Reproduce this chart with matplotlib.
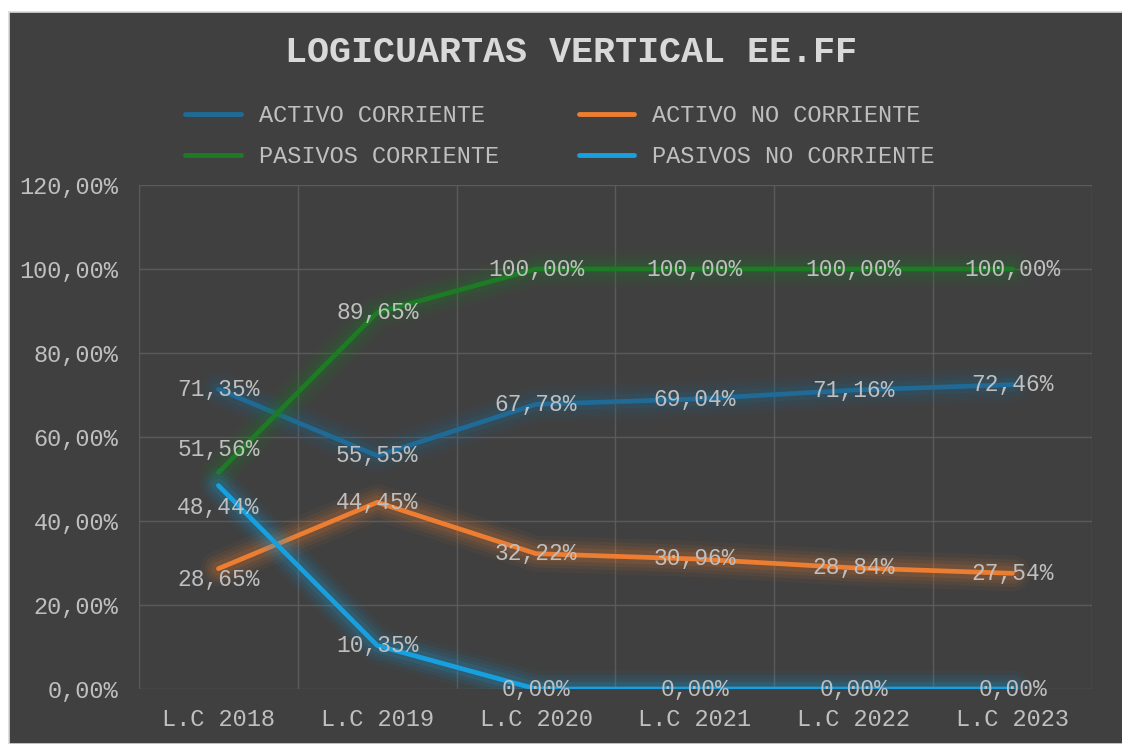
import numpy as np
import matplotlib.pyplot as plt
import matplotlib.patheffects as pe
from matplotlib.patches import Rectangle

categories = ['L.C 2018', 'L.C 2019', 'L.C 2020', 'L.C 2021', 'L.C 2022', 'L.C 2023']
activo_corriente = [71.35, 55.55, 67.78, 69.04, 71.16, 72.46]
activo_no_corriente = [28.65, 44.45, 32.22, 30.96, 28.84, 27.54]
pasivos_corriente = [51.56, 89.65, 100.00, 100.00, 100.00, 100.00]
pasivos_no_corriente = [48.44, 10.35, 0.00, 0.00, 0.00, 0.00]
y_ticks = [0, 20, 40, 60, 80, 100, 120]

series = [
    ('ACTIVO CORRIENTE', activo_corriente, '#1f6a96'),
    ('ACTIVO NO CORRIENTE', activo_no_corriente, '#ed7d31'),
    ('PASIVOS CORRIENTE', pasivos_corriente, '#1e7b25'),
    ('PASIVOS NO CORRIENTE', pasivos_no_corriente, '#16a0e0'),
]
# first-point label shifts (in points) where the label was moved off the line
first_shift = {2: 16.5, 3: -16, 1: -8}

def pct(v):
    return f'{v:.2f}'.replace('.', ',') + '%'

mono = 'Liberation Mono'
txt = '#bfbfbf'
bg = '#404040'

fig = plt.figure(figsize=(11.22, 7.44), dpi=100)
fig.patch.set_facecolor('white')
fig.patches.append(Rectangle((9 / 1122, 0), 1.2, (744 - 12) / 744, transform=fig.transFigure,
                             facecolor=bg, edgecolor='#d9d9d9', linewidth=1.2, zorder=-10))

ax = fig.add_axes([139 / 1122, 1 - 689 / 744, (1092 - 139) / 1122, (689 - 185) / 744])
ax.set_facecolor(bg)
ax.patch.set_alpha(0)

x = np.arange(len(categories))
lines = []
for i, (name, vals, col) in enumerate(series):
    glow = [pe.Stroke(linewidth=w, foreground=col, alpha=a)
            for w, a in [(26, 0.05), (20, 0.07), (15, 0.09), (10, 0.13)]]
    ln, = ax.plot(x, vals, color=col, linewidth=3.4, solid_capstyle='round', label=name,
                  path_effects=glow + [pe.Normal()], zorder=3 + i)
    lines.append(ln)
    for j, v in enumerate(vals):
        dy = first_shift.get(i, 0) if j == 0 else 0
        ax.annotate(pct(v), (x[j], v), xytext=(0, dy), textcoords='offset points',
                    ha='center', va='center', fontsize=16.5, family=mono, color=txt, zorder=10)

ax.set_xlim(-0.5, len(categories) - 0.5)
ax.set_ylim(0, 120)
ax.set_yticks(y_ticks)
ax.set_yticklabels([pct(t) for t in y_ticks], family=mono, fontsize=17, color=txt)
ax.set_xticks(x)
ax.set_xticklabels(categories, family=mono, fontsize=17, color=txt)
ax.set_xticks(np.arange(len(categories) + 1) - 0.5, minor=True)
ax.tick_params(which='both', length=0)
ax.tick_params(axis='y', pad=15)
ax.tick_params(axis='x', pad=14)
ax.grid(True, axis='y', color='#5a5a5a', linewidth=1)
ax.grid(True, axis='x', which='minor', color='#5a5a5a', linewidth=1)
ax.grid(False, axis='x', which='major')
for s in ax.spines.values():
    s.set_visible(False)

fig.text(571 / 1122, 1 - 52 / 744, 'LOGICUARTAS VERTICAL EE.FF', ha='center', va='center',
         family=mono, fontweight='bold', fontsize=26.5, color='#d9d9d9')

order = [0, 2, 1, 3]
leg = fig.legend([lines[k] for k in order], [series[k][0] for k in order],
                 loc='center', bbox_to_anchor=(560 / 1122, 1 - 136 / 744), ncol=2, frameon=False,
                 prop={'family': mono, 'size': 17}, labelcolor=txt, handlelength=2.35,
                 columnspacing=3.4, handletextpad=0.76, labelspacing=0.78)
for h in leg.legend_handles:
    h.set_path_effects([])
    h.set_linewidth(3.5)

fig.savefig('out.png', dpi=100, facecolor=fig.get_facecolor())
